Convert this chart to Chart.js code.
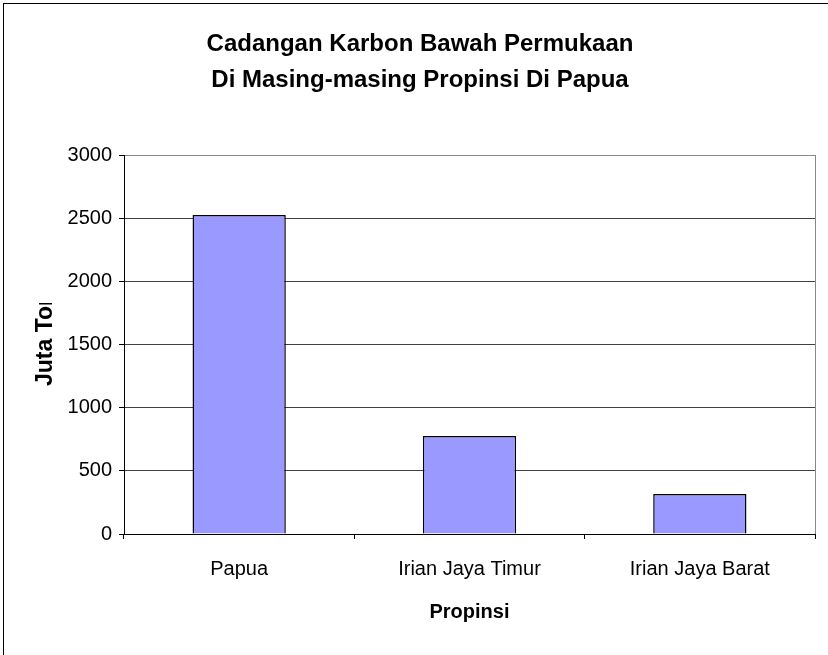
<!DOCTYPE html>
<html>
<head>
<meta charset="utf-8">
<script src="https://cdn.jsdelivr.net/npm/chart.js@4"></script>
<style>
  html, body { margin: 0; padding: 0; background: #fff; }
  canvas { display: block; }
</style>
</head>
<body>
<canvas id="myChart" width="828" height="655"></canvas>
<script>
const provinces = ['Papua', 'Irian Jaya Timur', 'Irian Jaya Barat'];
const carbonStock = [2525, 776, 317];
const titleLines = ['Cadangan Karbon Bawah Permukaan', 'Di Masing-masing Propinsi Di Papua'];
const yMax = 3000;
const yStep = 500;

const FONT = '"Liberation Sans", Arial, sans-serif';
Chart.defaults.font.family = FONT;
Chart.defaults.color = '#000';

// white page with a thin frame around it
const frame = {
  id: 'frame',
  beforeDraw: (chart) => {
    const ctx = chart.ctx;
    ctx.save();
    ctx.fillStyle = '#fff';
    ctx.fillRect(0, 0, chart.width, chart.height);
    ctx.strokeStyle = '#000';
    ctx.lineWidth = 1;
    ctx.strokeRect(3.5, 3.5, 1000, 1000);
    ctx.restore();
  },
  beforeDatasetsDraw: (chart) => {
    // right edge of the plot area
    const a = chart.chartArea;
    const ctx = chart.ctx;
    ctx.save();
    ctx.strokeStyle = '#888';
    ctx.lineWidth = 1;
    ctx.beginPath();
    ctx.moveTo(Math.round(a.right) + 0.5, a.top);
    ctx.lineTo(Math.round(a.right) + 0.5, a.bottom);
    ctx.stroke();
    ctx.restore();
  },
};

// vertical axis title, cut off at the top like the old sheet
const yTitle = {
  id: 'yTitle',
  afterDraw: (chart) => {
    const ctx = chart.ctx;
    ctx.save();
    ctx.beginPath();
    ctx.rect(0, 303, 120, 200);
    ctx.clip();
    ctx.translate(52, 386);
    ctx.rotate(-Math.PI / 2);
    ctx.font = 'bold 23px ' + FONT;
    ctx.fillStyle = '#000';
    ctx.textAlign = 'left';
    ctx.textBaseline = 'alphabetic';
    ctx.fillText('Juta Ton', 0, 0);
    ctx.restore();
  },
};

let myChart = new Chart(document.getElementById('myChart').getContext('2d'), {
  type: 'bar',
  data: {
    labels: provinces,
    datasets: [
      {
        data: carbonStock,
        backgroundColor: '#9999FF',
        borderColor: '#000',
        borderWidth: 1.5,
        barPercentage: 1,
        categoryPercentage: 0.405,
      },
    ],
  },
  plugins: [frame, yTitle],
  options: {
    responsive: false,
    animation: false,
    devicePixelRatio: 1,
    layout: {
      padding: { left: 25, right: 13, top: 0, bottom: 0 },
    },
    plugins: {
      legend: { display: false },
      tooltip: { enabled: false },
      title: {
        display: true,
        text: titleLines,
        color: '#000',
        font: { size: 24, weight: 'bold', lineHeight: 1.5 },
        padding: { top: 26, bottom: 57 },
      },
    },
    scales: {
      x: {
        grid: {
          drawOnChartArea: false,
          drawTicks: true,
          tickLength: 5,
          tickColor: '#000',
          offset: true,
        },
        border: { color: '#000', width: 1 },
        ticks: {
          color: '#000',
          font: { size: 20 },
          padding: 18,
          maxRotation: 0,
        },
        title: {
          display: true,
          text: 'Propinsi',
          color: '#000',
          font: { size: 20, weight: 'bold' },
          padding: { top: 0, bottom: 31 },
        },
        afterFit: (scale) => {
          scale.height = 121;
        },
      },
      y: {
        min: 0,
        max: yMax,
        ticks: {
          stepSize: yStep,
          color: '#000',
          font: { size: 20 },
          padding: 7,
          callback: (value) => String(value),
        },
        grid: {
          color: (ctx) => (ctx.tick && ctx.tick.value === yMax ? '#888' : '#404040'),
          tickColor: '#000',
          tickLength: 5,
        },
        border: { color: '#000', width: 1 },
        afterFit: (scale) => {
          scale.width = 99;
        },
      },
    },
  },
});
</script>
</body>
</html>
